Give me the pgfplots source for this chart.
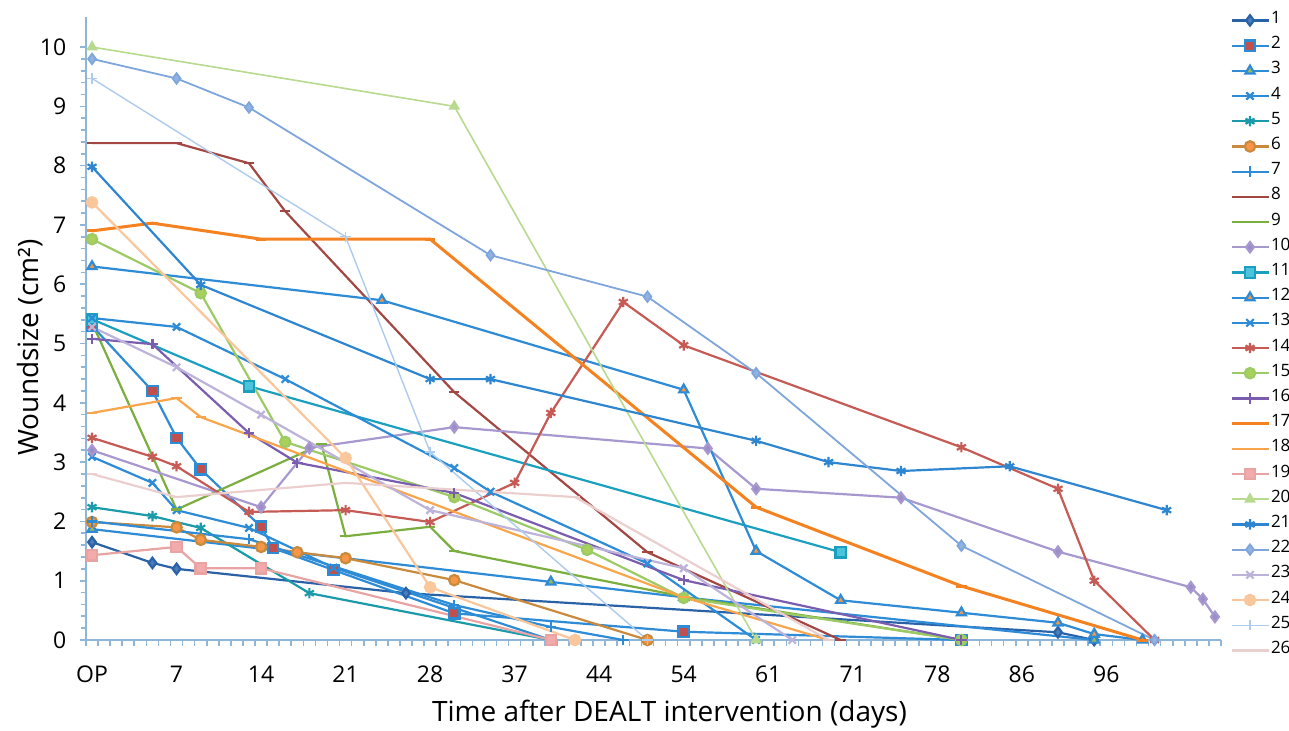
\documentclass[border=0pt]{standalone}
\usepackage{fontspec}
\setmainfont{Open Sans}
\usepackage{pgfplots}
\pgfplotsset{compat=1.18}
\definecolor{axc}{HTML}{8FB5D8}
\definecolor{bl}{HTML}{2E8BD6}
\definecolor{dbl}{HTML}{2A62A8}
\definecolor{dfill}{HTML}{4A7EBB}
\definecolor{rd}{HTML}{C0504D}
\definecolor{gr}{HTML}{9BBB59}
\definecolor{tl}{HTML}{1B9AAA}
\definecolor{og}{HTML}{F79646}
\definecolor{bro}{HTML}{C98A3E}
\definecolor{drd}{HTML}{A34743}
\definecolor{gn9}{HTML}{7AAF3F}
\definecolor{lav}{HTML}{A898D0}
\definecolor{lavf}{HTML}{9C8CC8}
\definecolor{cyf}{HTML}{4BC3DC}
\definecolor{tl11}{HTML}{1AA0BE}
\definecolor{rd14}{HTML}{C65A55}
\definecolor{lg15}{HTML}{9CCB65}
\definecolor{lg15f}{HTML}{A9D05B}
\definecolor{pu}{HTML}{7B5DB0}
\definecolor{o17}{HTML}{F58220}
\definecolor{o18}{HTML}{F8A54B}
\definecolor{pk}{HTML}{E8A3A3}
\definecolor{pkf}{HTML}{F2AAAA}
\definecolor{lg20}{HTML}{B8DA8E}
\definecolor{b21}{HTML}{2E86D0}
\definecolor{lb22}{HTML}{7EA6DC}
\definecolor{lb22f}{HTML}{92B3E2}
\definecolor{lav23}{HTML}{BDB2DA}
\definecolor{pch}{HTML}{F9C79B}
\definecolor{lb25}{HTML}{ADCBEC}
\definecolor{lp26}{HTML}{EBCFCF}
\begin{document}
\begin{tikzpicture}
\begin{axis}[
  scale only axis, width=567.5pt, height=311.3pt,
  xmin=-0.5, xmax=93.5, ymin=0, ymax=10.5,
  clip=false,
  axis x line*=bottom, axis y line*=left,
  axis line style={axc, line width=0.8pt},
  every tick/.style={axc, line width=0.8pt},
  tick align=outside,
  major tick length=3pt, minor tick length=2.5pt,
  ytick={0,1,...,10}, minor y tick num=4,
  xtick={-0.5,0.5,...,93.5}, xticklabels={},
  extra x ticks={0,7,14,21,28,35,42,49,56,63,70,77,84},
  extra x tick labels={OP,7,14,21,28,37,44,54,61,71,78,86,96},
  extra x tick style={major tick length=0pt, xticklabel style={yshift=-9pt}},
  /pgf/number format/assume math mode=true,
  tick label style={font=\fontsize{11.5}{12}\selectfont, black},
  yticklabel style={xshift=-3pt},
  xlabel={Time after DEALT intervention (days)},
  ylabel={Woundsize (cm²)},
  every axis x label/.style={at={(rel axis cs:0.5,0)}, anchor=center, yshift=-37pt, xshift=8pt, font=\fontsize{14}{15}\selectfont},
  every axis y label/.style={at={(rel axis cs:-0.0493,0.47)}, anchor=center, rotate=90, font=\fontsize{14}{15}\selectfont},
  line width=1.1pt,
  mark size=2.6pt,
  legend image code/.code={\draw[mark repeat=2,mark phase=2] plot coordinates {(0pt,0pt) (9.25pt,0pt) (18.5pt,0pt)};},
  legend style={at={(rel axis cs:1,1)}, anchor=north west, xshift=4.5pt, yshift=1.5pt,
    draw=none, fill=none, inner sep=0pt, outer sep=0pt, row sep=6.6pt, column sep=0.5pt,
    nodes={inner sep=0pt, text height=4.5pt, text depth=1.5pt, font=\fontsize{8.5}{9}\selectfont},
    cells={anchor=west}},
]
% 1
\addplot[dbl, mark=diamond*, mark options={fill=dfill, draw=dbl}] coordinates {(0,1.65)(5,1.30)(7,1.20)(26,0.79)(80,0.13)(83,0)};
% 2
\addplot[bl, mark=square*, mark options={fill=rd, draw=bl}] coordinates {(0,5.3)(5,4.20)(7,3.41)(9,2.88)(14,1.91)(15,1.55)(20,1.18)(30,0.45)(49,0.14)(72,0)};
% 3
\addplot[bl, mark=triangle*, mark options={fill=gr, draw=bl}] coordinates {(0,1.87)(38,0.98)(49,0.72)(83,0)};
% 4
\addplot[bl, mark=x, mark options={draw=bl}] coordinates {(0,3.09)(5,2.65)(7,2.19)(13,1.89)(20,1.22)(38,0)};
% 5
\addplot[tl, mark=asterisk, mark options={draw=tl}] coordinates {(0,2.24)(5,2.09)(9,1.89)(18,0.79)(38,0)};
% 6
\addplot[bro, mark=*, mark options={fill=og, draw=bro}] coordinates {(0,1.99)(7,1.90)(9,1.69)(14,1.57)(17,1.48)(21,1.38)(30,1.01)(46,0)};
% 7
\addplot[bl, mark=+, mark options={draw=bl}] coordinates {(0,2.0)(13,1.70)(30,0.59)(38,0.22)(44,0)};
% 8
\addplot[drd, mark=-, mark options={draw=drd}] coordinates {(0,8.38)(7,8.38)(13,8.04)(16,7.23)(30,4.18)(46,1.48)(62,0)};
% 9
\addplot[gn9, mark=-, mark options={draw=gn9}] coordinates {(0,5.35)(7,2.2)(19,3.30)(21,1.75)(28,1.91)(30,1.50)(49,0.73)(72,0)};
% 10
\addplot[lav, mark=diamond*, mark options={fill=lavf, draw=lav}] coordinates {(0,3.2)(14,2.24)(18,3.24)(30,3.59)(51,3.23)(55,2.55)(67,2.40)(80,1.49)(91,0.89)(92,0.69)(93,0.39)};
% 11
\addplot[tl11, mark=square*, mark options={fill=cyf, draw=tl11}] coordinates {(0,5.41)(13,4.28)(62,1.48)};
% 12
\addplot[bl, mark=triangle*, mark options={fill=og, draw=bl}] coordinates {(0,6.30)(24,5.73)(49,4.22)(55,1.50)(62,0.67)(72,0.46)(80,0.29)(83,0.10)(87,0)};
% 13
\addplot[bl, mark=x, mark options={draw=bl}] coordinates {(0,5.43)(7,5.28)(16,4.40)(30,2.90)(33,2.50)(46,1.29)(55,0)};
% 14
\addplot[rd14, mark=asterisk, mark options={draw=rd14}] coordinates {(0,3.41)(5,3.09)(7,2.93)(13,2.16)(21,2.19)(28,1.99)(35,2.65)(38,3.83)(44,5.70)(49,4.97)(72,3.25)(80,2.55)(83,1.0)(88,0)};
% 15
\addplot[lg15, mark=*, mark options={fill=lg15f, draw=lg15}] coordinates {(0,6.76)(9,5.85)(16,3.34)(30,2.41)(41,1.52)(49,0.71)(72,0)};
% 16
\addplot[pu, mark=+, mark options={draw=pu}] coordinates {(0,5.08)(5,4.99)(13,3.49)(17,2.99)(30,2.48)(49,1.01)(72,0)};
% 17
\addplot[o17, line width=1.5pt, mark=-, mark options={draw=o17}] coordinates {(0,6.90)(5,7.03)(14,6.76)(28,6.76)(55,2.24)(72,0.91)(87,0)};
% 18
\addplot[o18, mark=-, mark options={draw=o18}] coordinates {(0,3.83)(7,4.08)(9,3.76)(49,0.72)(61,0)};
% 19
\addplot[pk, mark=square*, mark options={fill=pkf, draw=pk}] coordinates {(0,1.43)(7,1.57)(9,1.21)(14,1.21)(38,0)};
% 20
\addplot[lg20, line width=0.8pt, mark=triangle*, mark options={fill=lg20, draw=lg20}] coordinates {(0,10)(30,9)(55,0)};
% 21
\addplot[b21, mark=asterisk, mark options={draw=b21}] coordinates {(0,7.98)(9,5.99)(28,4.40)(33,4.40)(55,3.36)(61,3.0)(67,2.85)(76,2.93)(89,2.19)};
% 22
\addplot[lb22, line width=0.9pt, mark=diamond*, mark options={fill=lb22f, draw=lb22}] coordinates {(0,9.80)(7,9.47)(13,8.98)(33,6.49)(46,5.79)(55,4.50)(72,1.59)(88,0)};
% 23
\addplot[lav23, mark=x, mark options={draw=lav23}] coordinates {(0,5.28)(7,4.60)(14,3.80)(28,2.19)(49,1.21)(58,0)};
% 24
\addplot[pch, mark=*, mark options={fill=pch, draw=pch}] coordinates {(0,7.38)(21,3.07)(28,0.89)(40,0)};
% 25
\addplot[lb25, line width=0.7pt, mark=+, mark options={draw=lb25}] coordinates {(0,9.47)(21,6.80)(28,3.17)(46,0)};
% 26
\addplot[lp26, mark=-, mark options={draw=lp26}] coordinates {(0,2.80)(7,2.41)(21,2.65)(40,2.41)(61,0)};
\legend{1,2,3,4,5,6,7,8,9,10,11,12,13,14,15,16,17,18,19,20,21,22,23,24,25,26}
\end{axis}
\pgfresetboundingbox
\path[use as bounding box] (-43pt,-45pt) rectangle (601.5pt,320pt);
\end{tikzpicture}
\end{document}
